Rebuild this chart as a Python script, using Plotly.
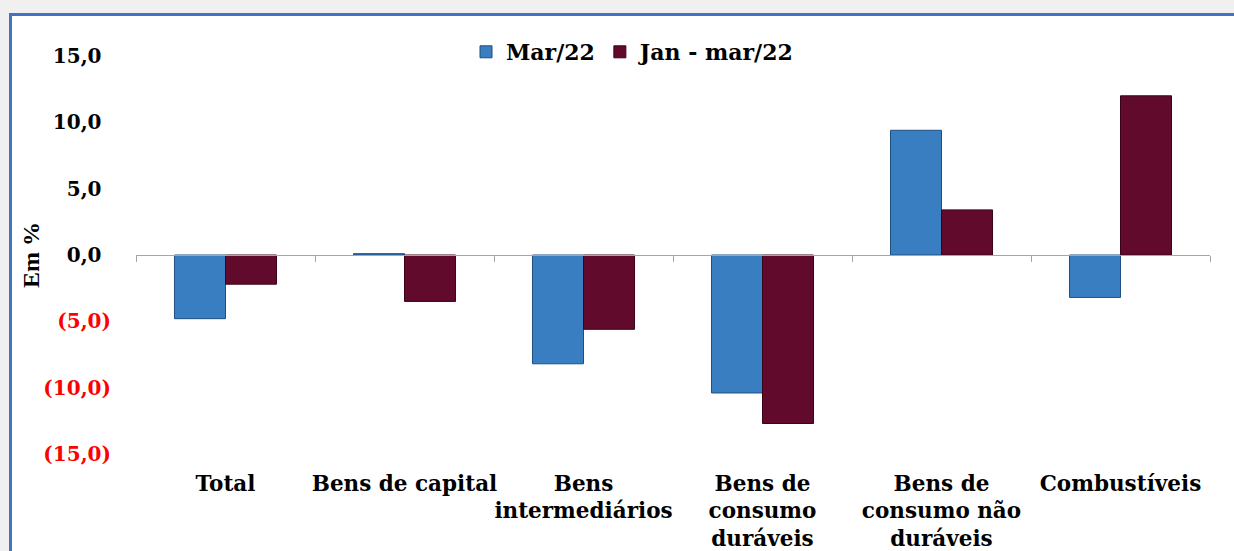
import plotly.graph_objects as go

categories = ["Total", "Bens de capital", "Bens<br>intermediários",
              "Bens de<br>consumo<br>duráveis", "Bens de<br>consumo não<br>duráveis",
              "Combustíveis"]
mar22 = [-4.8, 0.1, -8.2, -10.4, 9.4, -3.2]
jan_mar22 = [-2.2, -3.5, -5.6, -12.7, 3.4, 12.0]
y_ticks = [-15, -10, -5, 0, 5, 10, 15]

W, H = 1234, 551
L, R, T, B = 136, 24, 56, 97
pw, ph = W - L - R, H - T - B


def fmt(v):
    s = f"{abs(v):.1f}".replace(".", ",")
    if v < 0:
        return f"<span style='color:#ff0000'>({s})</span>"
    return f"{s}<span style='color:rgba(0,0,0,0)'>)</span>"


def px_x(p):
    return (p - L) / pw


def px_y(p):
    return (H - B - p) / ph


font_main = "DejaVu Serif"

fig = go.Figure()
fig.add_trace(go.Bar(x=categories, y=mar22, name="Mar/22",
                     marker=dict(color="#3a7ec2", line=dict(color="#1f4f80", width=1))))
fig.add_trace(go.Bar(x=categories, y=jan_mar22, name="Jan - mar/22",
                     marker=dict(color="#620a2b", line=dict(color="#3a0418", width=1))))
fig.add_trace(go.Scatter(x=categories, y=[0] * len(categories), xaxis="x2",
                         mode="markers", marker=dict(opacity=0), showlegend=False,
                         hoverinfo="skip"))

fig.update_layout(
    width=W, height=H,
    margin=dict(l=L, r=R, t=T, b=B, autoexpand=False),
    paper_bgcolor="#f0f0f0",
    plot_bgcolor="rgba(0,0,0,0)",
    barmode="group", bargap=0.43, bargroupgap=0,
    font=dict(family=font_main, color="black"),
    legend=dict(orientation="h", x=px_x(633), y=px_y(52), xanchor="center",
                yanchor="middle", font=dict(family=font_main, size=22, color="black"),
                bgcolor="rgba(0,0,0,0)", itemwidth=30, traceorder="normal"),
    xaxis=dict(type="category", categoryorder="array", categoryarray=categories,
               range=[-0.5, len(categories) - 0.5],
               showline=False, showgrid=False, ticks="", zeroline=False,
               tickangle=0,
               tickfont=dict(family=font_main, size=21.5, color="black"),
               ticklabelstandoff=14),
    xaxis2=dict(type="category", categoryorder="array", categoryarray=categories,
                range=[-0.5, len(categories) - 0.5], overlaying="x", anchor="free",
                position=0.5, showline=True, linecolor="#a6a6a6", linewidth=1,
                ticks="outside", tickson="boundaries", ticklen=6, tickcolor="#a6a6a6",
                showticklabels=False, showgrid=False, zeroline=False),
    yaxis=dict(range=[-15, 15], tickvals=y_ticks, ticktext=[fmt(v) for v in y_ticks],
               showgrid=False, zeroline=False, showline=False, ticks="",
               tickfont=dict(family=font_main, size=20, color="black"),
               ticklabelstandoff=24),
    annotations=[dict(text="<b>Em %</b>", textangle=-90, xref="paper", yref="paper",
                      x=px_x(31), y=px_y(255), xanchor="center", yanchor="middle",
                      showarrow=False,
                      font=dict(family="Liberation Serif", size=24, color="black"))],
    shapes=[dict(type="rect", xref="paper", yref="paper", layer="below",
                 x0=px_x(10.5), x1=px_x(W + 20), y0=px_y(14.5), y1=px_y(H + 20),
                 fillcolor="white", line=dict(color="#4472c4", width=3))],
)
fig.layout.xaxis.tickfont.weight = "bold"
fig.layout.yaxis.tickfont.weight = "bold"
fig.layout.legend.font.weight = "bold"

fig.write_html("out.html", config={"displayModeBar": False},
               post_script="document.body.style.margin='0';document.body.style.overflow='hidden';")
